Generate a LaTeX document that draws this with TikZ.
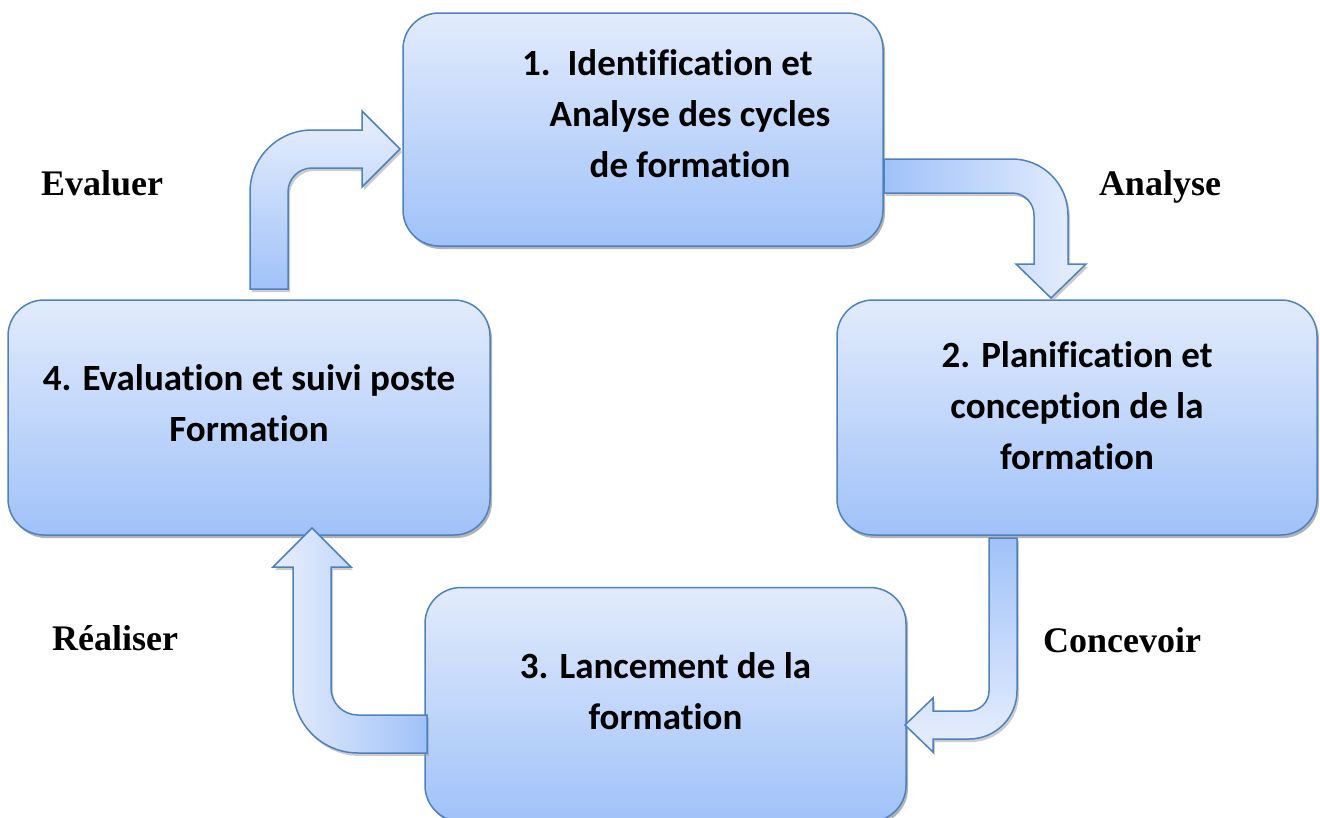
\documentclass[tikz,border=0pt]{standalone}
\usepackage{fontspec}
\setmainfont{Liberation Serif}
\newfontfamily\boxfont[Ligatures=NoCommon]{Carlito}
\usetikzlibrary{shadows}

\definecolor{cycleline}{RGB}{79,129,189}
\definecolor{cyclelight}{RGB}{226,235,252}
\definecolor{cycledark}{RGB}{160,194,249}

\tikzset{
  stagebox/.style={draw=cycleline, line width=1.5pt, rounded corners=36pt,
    minimum width=480pt, minimum height=234pt,
    top color=cyclelight, bottom color=cycledark,
    drop shadow={shadow xshift=2pt, shadow yshift=-3pt, fill=black!50, opacity=.6}},
  stagetext/.style={font=\boxfont\bfseries\fontsize{37}{51}\selectfont, align=center},
  verb/.style={font=\bfseries\fontsize{36}{40}\selectfont, anchor=base},
  bentarrow/.style={draw=cycleline, line width=1.5pt,
    drop shadow={shadow xshift=2pt, shadow yshift=-3pt, fill=black!40, opacity=.5}}
}

\begin{document}
\begin{tikzpicture}[x=1pt, y=-1pt]
  \useasboundingbox (0,0) rectangle (1320,817);

  % the four stages
  \node[stagebox, minimum height=233pt] (b1) at (643,129.5) {};
  \node[stagebox, minimum height=235pt] (b2) at (1077,417.5) {};
  \node[stagebox, minimum width=481pt] (b3) at (665.5,704.5) {};
  \node[stagebox, minimum width=482pt, minimum height=235pt] (b4) at (249,417.5) {};

  \node[stagetext] (t1) at ([xshift=47pt, yshift=16pt]b1.center)
    {\llap{1.\ \ }Identification et\\ Analyse des cycles\\ de formation};
  \node[stagetext] (t2) at ([yshift=12pt]b2.center)
    {2. Planification et\\ conception de la\\ formation};
  \node[stagetext] (t3) at ([yshift=13pt]b3.center)
    {3. Lancement de la\\ formation};
  \node[stagetext] (t4) at ([yshift=14pt]b4.center)
    {4. Evaluation et suivi poste\\ Formation};

  % bent block arrows
  \draw[bentarrow, left color=cycledark, right color=cyclelight!80!white]
    (884,159) -- (1012,159) .. controls (1042.9,159) and (1068,184.1) .. (1068,215)
    -- (1068,264) -- (1086,264) -- (1051,298) -- (1016,264) -- (1034,264)
    -- (1034,215) .. controls (1034,202.9) and (1024.1,193) .. (1012,193)
    -- (884,193) -- cycle;
  \draw[bentarrow, top color=cycledark, bottom color=cyclelight!80!white]
    (989,538) -- (1017,538) -- (1017,691) .. controls (1017,717.5) and (995.5,739) .. (969,739)
    -- (933,739) -- (933,752) -- (905,725) -- (933,698) -- (933,711)
    -- (969,711) .. controls (980,711) and (989,702) .. (989,691) -- cycle;
  \draw[bentarrow, left color=cyclelight!80!white, right color=cycledark]
    (427,715) -- (358,715) .. controls (343,715) and (331,703) .. (331,688)
    -- (331,567) -- (351,567) -- (312,528) -- (273,567) -- (293,567)
    -- (293,688) .. controls (293,724) and (322,753) .. (358,753)
    -- (427,753) -- cycle;
  \draw[bentarrow, top color=cyclelight!80!white, bottom color=cycledark]
    (250,289) -- (250,192) .. controls (250,157.8) and (277.8,130) .. (312,130)
    -- (362,130) -- (362,111) -- (400,149) -- (362,187) -- (362,168)
    -- (312,168) .. controls (298.7,168) and (288,178.7) .. (288,192)
    -- (288,289) -- cycle;

  % step names
  \node[verb] (evaluer) at (102,195) {Evaluer};
  \node[verb] (analyse) at (1160,195) {Analyse};
  \node[verb] (realiser) at (115,650) {Réaliser};
  \node[verb] (concevoir) at (1122,652) {Concevoir};
\end{tikzpicture}
\end{document}
